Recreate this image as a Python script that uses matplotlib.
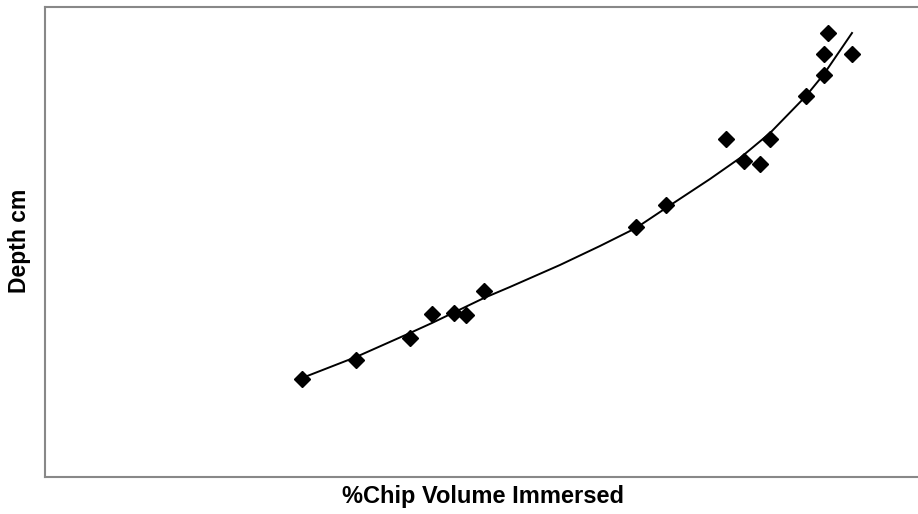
import matplotlib
matplotlib.use("Agg")
import matplotlib.pyplot as plt

volume_pct = [29.4, 35.6, 41.8, 44.3, 46.8, 48.2, 50.3, 67.7, 71.1, 78.0,
              80.1, 81.9, 83.0, 87.2, 89.2, 89.2, 89.7, 92.4]
depth_cm = [20.9, 25.0, 29.6, 34.6, 34.8, 34.4, 39.6, 53.1, 57.8, 71.9,
            67.2, 66.7, 71.9, 81.1, 85.5, 90.1, 94.5, 90.1]

# Trend line
trend_x = [29.44, 35.62, 41.81, 44.33, 50.29, 53.26, 58.99, 63.57, 67.70, 71.13,
           76.17, 79.61, 83.05, 87.17, 89.23, 92.44]
trend_y = [21.06, 25.53, 30.64, 32.77, 38.09, 40.43, 45.11, 49.15, 52.98, 57.23,
           63.40, 67.87, 73.19, 81.06, 85.74, 94.47]

W, H = 918, 514
fig = plt.figure(figsize=(W / 100, H / 100), dpi=100)
left, right, top, bottom = 45, 925, 7, 477
ax = fig.add_axes([left / W, (H - bottom) / H, (right - left) / W, (bottom - top) / H])

ax.plot(trend_x, trend_y, color="black", linewidth=1.4, zorder=2,
        solid_joinstyle="round")
ax.plot(volume_pct, depth_cm, linestyle="none", marker="D", markersize=8,
        color="black", zorder=3)

ax.set_xlim(0, 100 * (right - left) / 873)
ax.set_ylim(0, 100)
ax.set_xticks([])
ax.set_yticks([])
for s in ax.spines.values():
    s.set_color("#888888")
    s.set_linewidth(1.5)

fig.text(483 / W, (H - 497) / H, "%Chip Volume Immersed", ha="center", va="center",
         fontsize=17, fontweight="bold", family="Liberation Sans")
fig.text(20 / W, (H - 241) / H, "Depth cm", ha="center", va="center", rotation=90,
         fontsize=16.5, fontweight="bold", family="Liberation Sans")

fig.savefig("out.png", dpi=100)
